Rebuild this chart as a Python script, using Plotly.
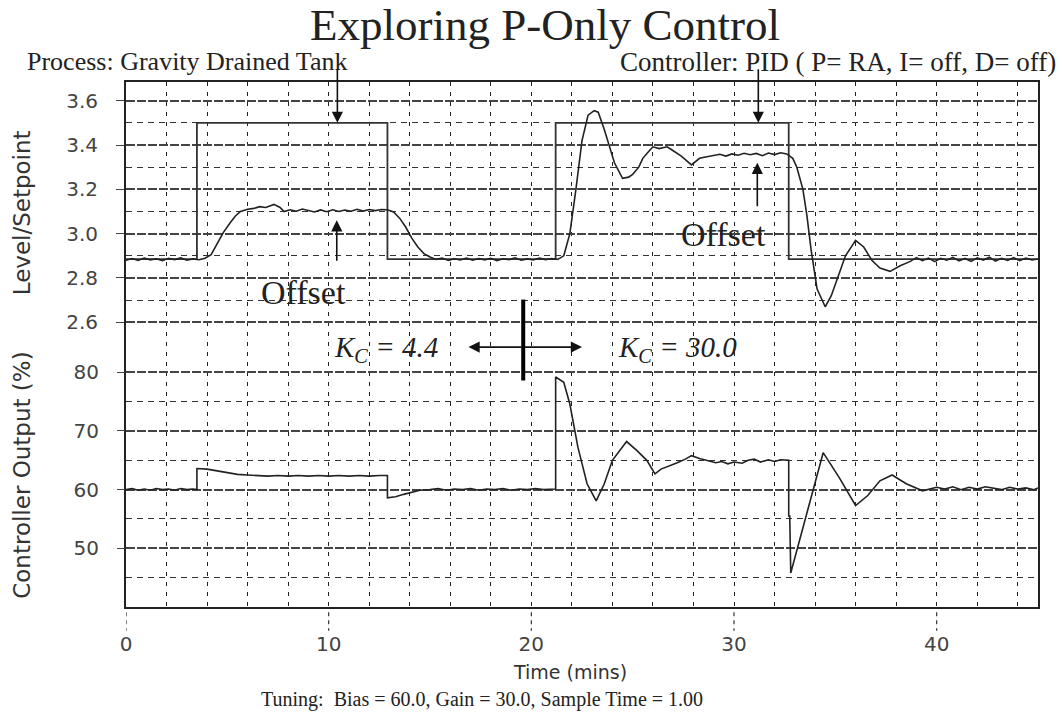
import plotly.graph_objects as go

# ---------------- data ----------------
sp_time = [0, 3.5, 12.9, 21.2, 32.7, 45]
sp_value = [2.885, 3.5, 2.885, 3.5, 2.885, 2.885]

level_time = [0.0, 0.3, 0.6, 0.9, 1.2, 1.5, 1.8, 2.1, 2.4, 2.7, 3.0, 3.3, 3.6, 3.9,
              4.2, 4.5, 4.8, 5.15, 5.4, 5.65, 6.0, 6.3, 6.6, 6.9, 7.3, 7.6, 7.8, 8.1,
              8.4, 8.7, 9.0, 9.3, 9.6, 9.9, 10.2, 10.5, 10.8, 11.1, 11.4, 11.7, 12.0,
              12.3, 12.6, 12.9, 13.2, 13.5, 13.8, 14.1, 14.4, 14.7, 15.0, 15.3, 15.6,
              15.9, 16.2, 16.5, 16.8, 17.1, 17.4, 17.7, 18.0, 18.3, 18.6, 18.9, 19.2,
              19.5, 19.8, 20.1, 20.4, 20.7, 21.0, 21.3, 21.6, 21.9, 22.2, 22.5, 22.8,
              23.1, 23.3, 23.6, 24.1, 24.5, 24.8, 25.0, 25.3, 25.5, 25.8, 26.0, 26.3,
              26.7, 27.0, 27.4, 27.9, 28.3, 28.6, 29.0, 29.3, 29.6, 29.9, 30.2, 30.5,
              30.8, 31.1, 31.4, 31.7, 32.0, 32.3, 32.6, 32.9, 33.1, 33.4, 33.6, 33.8,
              34.1, 34.5, 34.8, 35.1, 35.5, 36.0, 36.4, 36.8, 37.2, 37.7, 38.2, 38.7,
              39.0, 39.3, 39.6, 39.9, 40.2, 40.5, 40.8, 41.1, 41.4, 41.7, 42.0, 42.3,
              42.6, 42.9, 43.2, 43.5, 43.8, 44.1, 44.4, 44.7, 45.0]
level_value = [2.880, 2.888, 2.879, 2.890, 2.882, 2.887, 2.878, 2.889, 2.883, 2.891, 2.880,
               2.886, 2.882, 2.889, 2.905, 2.955, 3.005, 3.050, 3.080, 3.100, 3.110, 3.114,
               3.122, 3.118, 3.132, 3.118, 3.100, 3.108, 3.101, 3.111, 3.103, 3.098, 3.107,
               3.099, 3.108, 3.100, 3.107, 3.101, 3.110, 3.102, 3.109, 3.104, 3.109, 3.108,
               3.098, 3.070, 3.030, 2.980, 2.940, 2.910, 2.895, 2.884, 2.890, 2.879, 2.887,
               2.881, 2.890, 2.880, 2.888, 2.882, 2.889, 2.878, 2.887, 2.883, 2.891, 2.880,
               2.886, 2.881, 2.890, 2.883, 2.888, 2.884, 2.900, 3.000, 3.200, 3.420, 3.535,
               3.555, 3.548, 3.470, 3.320, 3.250, 3.255, 3.268, 3.300, 3.340, 3.372, 3.392,
               3.384, 3.392, 3.374, 3.350, 3.310, 3.340, 3.346, 3.352, 3.358, 3.350, 3.360,
               3.354, 3.363, 3.356, 3.362, 3.352, 3.364, 3.357, 3.365, 3.360, 3.340, 3.300,
               3.200, 3.080, 2.930, 2.750, 2.670, 2.720, 2.800, 2.900, 2.970, 2.940, 2.880,
               2.845, 2.830, 2.855, 2.875, 2.892, 2.878, 2.890, 2.874, 2.889, 2.880, 2.893,
               2.877, 2.888, 2.875, 2.891, 2.881, 2.894, 2.876, 2.889, 2.879, 2.892, 2.878,
               2.890, 2.881, 2.886]

co_time = [0.0, 0.3, 0.6, 0.9, 1.2, 1.5, 1.8, 2.1, 2.4, 2.7, 3.0, 3.3, 3.5, 3.5, 4.0, 4.5,
           5.0, 5.5, 6.0, 6.5, 7.0, 7.5, 8.0, 8.5, 9.0, 9.5, 10.0, 10.5, 11.0, 11.5, 12.0,
           12.5, 12.9, 12.9, 13.3, 13.7, 14.1, 14.5, 15.0, 15.4, 15.8, 16.2, 16.6, 17.0,
           17.4, 17.8, 18.2, 18.6, 19.0, 19.4, 19.8, 20.2, 20.6, 21.0, 21.2, 21.2, 21.6,
           21.9, 22.3, 22.75, 23.2, 23.6, 24.0, 24.7, 25.2, 25.7, 26.1, 26.4, 26.8, 27.2,
           27.6, 27.9, 28.3, 28.7, 29.1, 29.4, 29.7, 30.0, 30.4, 30.7, 31.0, 31.3, 31.7,
           32.0, 32.3, 32.7, 32.7, 32.75, 32.8, 34.4, 35.2, 36.0, 36.6, 37.2, 37.8, 38.5,
           39.3, 40.0, 40.4, 40.8, 41.2, 41.6, 42.0, 42.4, 42.8, 43.2, 43.6, 44.0, 44.4,
           44.8, 45.0]
co_value = [60.0, 60.2, 59.9, 60.1, 59.9, 60.2, 60.0, 60.1, 59.9, 60.2, 60.0, 60.1, 60.0,
            63.6, 63.5, 63.2, 62.9, 62.6, 62.5, 62.4, 62.3, 62.4, 62.3, 62.4, 62.3, 62.4,
            62.3, 62.4, 62.3, 62.4, 62.3, 62.4, 62.4, 58.6, 58.8, 59.2, 59.6, 59.9, 60.0,
            60.2, 59.9, 60.1, 60.0, 60.2, 59.9, 60.1, 60.0, 60.2, 59.9, 60.1, 60.0, 60.2,
            60.0, 60.1, 60.1, 79.2, 78.3, 74.6, 67.2, 61.0, 58.1, 61.0, 65.0, 68.2, 66.7,
            65.0, 62.7, 63.5, 64.0, 64.6, 65.2, 65.8, 65.3, 65.0, 64.6, 64.8, 64.4, 64.7,
            64.5, 65.0, 65.2, 64.7, 65.1, 64.8, 65.1, 65.0, 55.5, 55.5, 45.8, 66.3, 62.0,
            57.3, 59.0, 61.5, 62.5, 61.0, 59.8, 60.4, 60.1, 60.5, 60.0, 60.4, 60.1, 60.5,
            60.2, 60.0, 60.4, 60.1, 60.3, 60.0, 60.3, 60.2]

x_ticks = [0, 10, 20, 30, 40]
level_ticks = [2.6, 2.8, 3.0, 3.2, 3.4, 3.6]
level_minor = [2.7, 2.9, 3.1, 3.3, 3.5]
co_ticks = [50, 60, 70, 80]
co_minor = [45, 55, 65, 75]

SANS = "DejaVu Sans"
SERIF = "Liberation Serif"

fig = go.Figure()
fig.add_trace(go.Scatter(x=sp_time, y=sp_value, mode="lines", line_shape="hv",
                         line=dict(color="#333", width=1.8), yaxis="y", showlegend=False))
fig.add_trace(go.Scatter(x=level_time, y=level_value, mode="lines",
                         line=dict(color="#222", width=1.6), yaxis="y", showlegend=False))
fig.add_trace(go.Scatter(x=co_time, y=co_value, mode="lines",
                         line=dict(color="#222", width=1.6), yaxis="y2", showlegend=False))
# thick divider bar between the two tuning regions
fig.add_trace(go.Scatter(x=[19.6, 19.6], y=[92.4, 78.6], mode="lines",
                         line=dict(color="#000", width=4), yaxis="y2", showlegend=False))

fig.update_layout(
    width=1061, height=720,
    margin=dict(l=126, r=23, t=82, b=113),
    paper_bgcolor="white", plot_bgcolor="white",
    xaxis=dict(range=[0, 45], tickvals=x_ticks, showgrid=True,
               gridcolor="#222", gridwidth=1.2, griddash="4px,6px",
               minor=dict(dtick=2, tick0=0, showgrid=True, gridcolor="#222",
                          gridwidth=1.2, griddash="4px,6px"),
               showline=True, linecolor="#222", linewidth=2, mirror=True,
               ticks="", ticklabelstandoff=18, zeroline=False,
               tickfont=dict(family=SANS, size=20, color="#444")),
    yaxis=dict(range=[1.3153, 3.6844], tickvals=level_ticks,
               ticktext=[f"{v:.1f}" for v in level_ticks],
               showgrid=True, gridcolor="#444", gridwidth=1.6, griddash="9px,2px",
               minor=dict(tickvals=level_minor, showgrid=True, gridcolor="#333",
                          gridwidth=1.2, griddash="6px,5px"),
               showline=True, linecolor="#222", linewidth=2, mirror=True,
               ticks="outside", ticklen=8, tickcolor="#444", ticklabelstandoff=14,
               zeroline=False, tickfont=dict(family=SANS, size=20, color="#444")),
    yaxis2=dict(range=[40, 129.48], overlaying="y", side="left", anchor="x",
                tickvals=co_ticks, showgrid=True, gridcolor="#444", gridwidth=1.6,
                griddash="9px,2px",
                minor=dict(tickvals=co_minor, showgrid=True, gridcolor="#333",
                           gridwidth=1.2, griddash="6px,5px"),
                showline=False, ticks="outside", ticklen=8, tickcolor="#444",
                ticklabelstandoff=14, zeroline=False,
                tickfont=dict(family=SANS, size=20, color="#444")),
)

# dashed marks below the x axis at the labelled ticks
for t in x_ticks:
    fig.add_shape(type="line", xref="x", yref="paper", x0=t, x1=t, y0=-0.01, y1=-0.045,
                  line=dict(color="#333", width=1.2, dash="4px,4px"))

anns = [
    dict(text="Exploring P-Only Control", xref="paper", yref="paper", x=0.459, y=1.108,
         font=dict(family=SERIF, size=45, color="#222")),
    dict(text="Process: Gravity Drained Tank", xref="paper", yref="paper", x=-0.111, y=1.039,
         xanchor="left", font=dict(family=SERIF, size=26, color="#222")),
    dict(text="Controller: PID ( P= RA, I= off, D= off)", xref="paper", yref="paper",
         x=1.0214, y=1.039, xanchor="right", font=dict(family=SERIF, size=27, color="#222")),
    dict(text="Level/Setpoint", xref="paper", yref="paper", x=-0.114, y=0.75,
         textangle=-90, font=dict(family=SANS, size=23, color="#333")),
    dict(text="Controller Output (%)", xref="paper", yref="paper", x=-0.114, y=0.25,
         textangle=-90, font=dict(family=SANS, size=23, color="#333")),
    dict(text="Time (mins)", xref="paper", yref="paper", x=0.487, y=-0.124,
         font=dict(family=SANS, size=19, color="#333")),
    dict(text="Tuning:  Bias = 60.0, Gain = 30.0, Sample Time = 1.00", xref="paper",
         yref="paper", x=0.390, y=-0.177, font=dict(family=SERIF, size=20, color="#222")),
    dict(text="Offset", xref="x", yref="y", x=8.75, y=2.735,
         font=dict(family=SERIF, size=34, color="#222")),
    dict(text="Offset", xref="x", yref="y", x=29.5, y=2.994,
         font=dict(family=SERIF, size=34, color="#222")),
    dict(text="<i>K<sub>C</sub></i> <i>= 4.4</i>", xref="x", yref="y2", x=12.85, y=83.9,
         font=dict(family=SERIF, size=29, color="#222")),
    dict(text="<i>K<sub>C</sub></i> <i>= 30.0</i>", xref="x", yref="y2", x=27.2, y=83.9,
         font=dict(family=SERIF, size=29, color="#222")),
]
for a in anns:
    a.setdefault("showarrow", False)
    a.setdefault("xanchor", "center")
    a.setdefault("yanchor", "middle")
    fig.add_annotation(**a)

# arrows
arrow_style = dict(showarrow=True, arrowhead=2, arrowsize=1.4, arrowwidth=1.6,
                   arrowcolor="#111", text="")
fig.add_annotation(x=10.43, y=3.5, xref="x", yref="y", ax=0, ay=-55, **arrow_style)
fig.add_annotation(x=31.2, y=3.5, xref="x", yref="y", ax=0, ay=-55, **arrow_style)
fig.add_annotation(x=10.4, y=3.06, xref="x", yref="y", ax=0, ay=42, **arrow_style)
fig.add_annotation(x=31.15, y=3.32, xref="x", yref="y", ax=0, ay=45, **arrow_style)
fig.add_annotation(x=16.9, y=84.3, xref="x", yref="y2", ax=19.6, ay=84.3,
                   axref="x", ayref="y2", **arrow_style)
fig.add_annotation(x=22.5, y=84.3, xref="x", yref="y2", ax=19.6, ay=84.3,
                   axref="x", ayref="y2", **arrow_style)

fig.write_html("out.html")
